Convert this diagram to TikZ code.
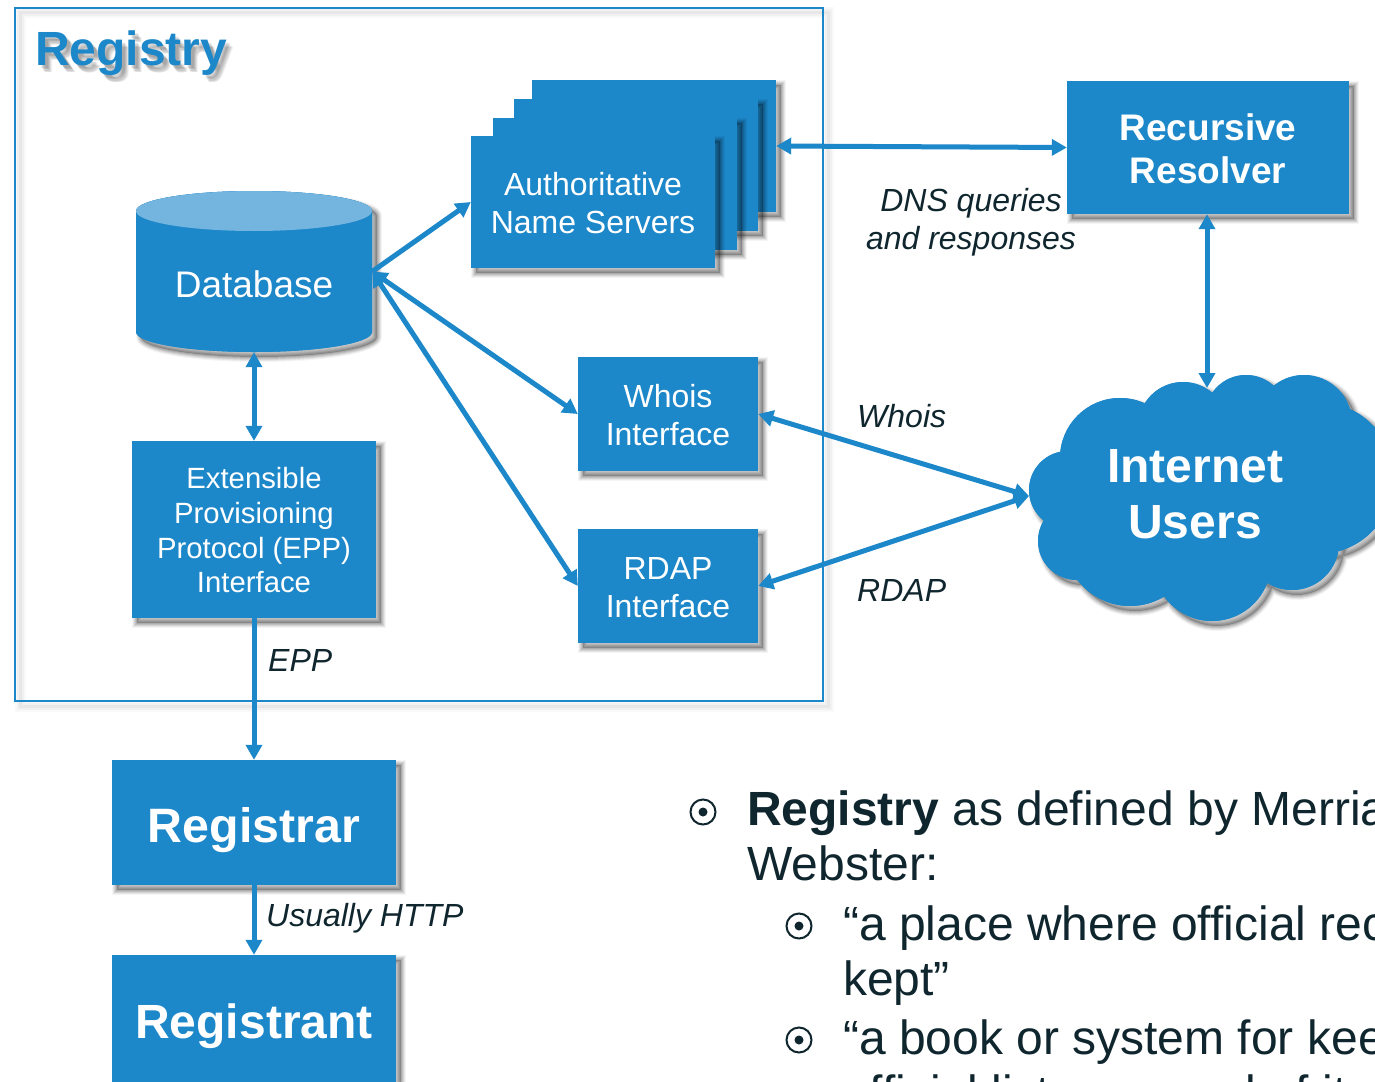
\documentclass[tikz,border=0pt]{standalone}
\usepackage{fontspec}
\setmainfont{Liberation Sans}
\usetikzlibrary{arrows.meta}
\definecolor{mainblue}{HTML}{1C87C9}
\definecolor{topblue}{HTML}{74B5E0}
\definecolor{ink}{HTML}{10262E}
\tikzset{
  softshadow/.style={
    preaction={draw=black,draw opacity=.04,line width=10pt,transform canvas={shift={(5,5)}}},
    preaction={draw=black,draw opacity=.06,line width=8pt,transform canvas={shift={(5,5)}}},
    preaction={draw=black,draw opacity=.08,line width=6pt,transform canvas={shift={(5,5)}}},
    preaction={draw=black,draw opacity=.09,line width=4pt,transform canvas={shift={(5,5)}}},
    preaction={draw=black,fill=black,draw opacity=.09,fill opacity=.22,line width=2pt,transform canvas={shift={(5,5)}}}
  },
  bluebox/.style={softshadow,fill=mainblue,text=white,inner sep=0pt,align=center},
  conn/.style={draw=mainblue,line width=5pt,>={Triangle[width=16pt,length=15pt]}},
  tag/.style={font=\fontsize{32}{38}\selectfont\itshape,text=ink,inner sep=0pt},
  bodytext/.style={font=\fontsize{48}{55}\selectfont,text=ink,inner sep=0pt,anchor=base west},
  ringmark/.style={draw=ink,line width=2pt,circle,minimum size=25pt,inner sep=0pt},
  ringdot/.style={fill=ink,circle,minimum size=9pt,inner sep=0pt}
}
\begin{document}
\begin{tikzpicture}[x=1pt,y=-1pt]
\useasboundingbox (0,0) rectangle (1375,1081);
\clip (0,0) rectangle (1375,1081);
\fill[white] (0,0) rectangle (1375,1081);

% registry frame
\node[minimum width=808pt,minimum height=693pt,inner sep=0pt,draw=mainblue,line width=2pt,
  preaction={draw=black,draw opacity=.025,line width=11pt,transform canvas={shift={(5,5)}}},
  preaction={draw=black,draw opacity=.03,line width=7pt,transform canvas={shift={(5,5)}}},
  preaction={draw=black,draw opacity=.04,line width=3pt,transform canvas={shift={(5,5)}}}] (frame) at (419,354.5) {};

% title
\foreach \k/\o in {7/.05,6/.07,5/.09,4/.10,3/.08}
  \node[font=\fontsize{48}{55}\bfseries\selectfont,text=black,text opacity=\o,inner sep=0pt,anchor=base west] (titleshade\k) at (35+\k,66+\k) {Registry};
\node[font=\fontsize{48}{55}\bfseries\selectfont,text=mainblue,inner sep=0pt,anchor=base west] (title) at (35,66) {Registry};

% database
\path[softshadow,fill=mainblue] (136,211) -- (136,332) arc[start angle=180,end angle=360,x radius=118,y radius=-20] -- (372,211) arc[start angle=0,end angle=180,x radius=118,y radius=-20] -- cycle;
\fill[mainblue] (136,211) -- (136,332) arc[start angle=180,end angle=360,x radius=118,y radius=-20] -- (372,211) arc[start angle=0,end angle=180,x radius=118,y radius=-20] -- cycle;
\fill[topblue] (254,211) ellipse[x radius=118,y radius=20];
\node[minimum width=236pt,minimum height=161pt,inner sep=0pt] (db) at (254,271.5) {};
\node[font=\fontsize{37}{44}\selectfont,text=white,inner sep=0pt] (dblabel) at (254,284) {Database};

% name server stack
\node[bluebox,minimum width=244pt,minimum height=132pt] (ns4) at (654,146) {};
\node[bluebox,minimum width=244pt,minimum height=132pt] (ns3) at (636,165) {};
\node[bluebox,minimum width=244pt,minimum height=132pt] (ns2) at (615,184) {};
\node[bluebox,minimum width=244pt,minimum height=132pt,font=\fontsize{32}{38}\selectfont] (ns1) at (593,202) {\rule{0pt}{25pt}Authoritative\\Name Servers};

\node[bluebox,minimum width=282pt,minimum height=133pt,font=\fontsize{37}{43}\bfseries\selectfont] (res) at (1208,147.5) {\rule{0pt}{29pt}Recursive\\Resolver};
\node[bluebox,minimum width=180pt,minimum height=114pt,font=\fontsize{32}{37.5}\selectfont] (whois) at (668,414) {\rule{0pt}{25pt}Whois\\Interface};
\node[bluebox,minimum width=180pt,minimum height=114pt,font=\fontsize{32}{37.5}\selectfont] (rdap) at (668,586) {\rule{0pt}{25pt}RDAP\\Interface};
\node[bluebox,minimum width=244pt,minimum height=177pt,font=\fontsize{29.3}{34.7}\selectfont] (epp) at (254,529.5) {\rule{0pt}{23pt}Extensible\\Provisioning\\Protocol (EPP)\\Interface};
\node[bluebox,minimum width=284pt,minimum height=125pt,font=\fontsize{48.3}{55}\bfseries\selectfont,text height=49pt,text depth=10pt] (registrar) at (254,822.5) {Registrar};
\node[bluebox,minimum width=284pt,minimum height=135pt,font=\fontsize{48}{55}\bfseries\selectfont,text height=41pt,text depth=10pt] (registrant) at (254,1022.5) {Registrant};

% cloud
\def\cloudshape{
  (1068,490) circle[radius=39] (1120,458) circle[radius=60] (1183,427) circle[radius=45]
  (1246,416) circle[radius=41] (1304,423) circle[radius=48] (1318,478) circle[radius=76]
  (1292,543) circle[radius=47] (1212,562) circle[radius=59] (1130,540) circle[radius=66]
  (1077,541) circle[radius=39] (1190,480) ellipse[x radius=130,y radius=75]}
\path[softshadow,fill=mainblue] \cloudshape;
\fill[mainblue] \cloudshape;
\node[font=\fontsize{48}{56}\bfseries\selectfont,text=white,align=center,inner sep=0pt] (users) at (1195,494) {Internet\\Users};
\coordinate (cloudtop) at (1207,388);
\coordinate (cloudwest) at (1029,496);

% connectors
\draw[conn,->] (db.east) -- (ns1.west);
\draw[conn,<->] (db.east) -- (whois.west);
\draw[conn,<->] (db.east) -- (rdap.west);
\draw[conn,<->] (db.south) -- (epp.north);
\draw[conn,->] (epp.south) -- (registrar.north);
\draw[conn,->] (registrar.south) -- (registrant.north);
\draw[conn,<->] (ns4.east) -- (res.west);
\draw[conn,<->] (res.south -| 1207,0) -- (cloudtop);
\draw[conn,<->] (whois.east) -- (cloudwest);
\draw[conn,<->] (rdap.east) -- (cloudwest);

% labels
\node[tag,align=center] (dns) at (971,222) {DNS queries\\and responses};
\node[tag,anchor=west] (lwhois) at (857,416) {Whois};
\node[tag,anchor=west] (lrdap) at (857,590) {RDAP};
\node[tag,anchor=west] (lepp) at (268,660) {EPP};
\node[tag,anchor=west] (lhttp) at (266,918) {Usually HTTP};

% body text
\node[ringmark] (b1) at (703,812) {};
\node[ringdot] (b1d) at (703,812) {};
\node[ringmark] (b2) at (799,926) {};
\node[ringdot] (b2d) at (799,926) {};
\node[ringmark] (b3) at (799,1040) {};
\node[ringdot] (b3d) at (799,1040) {};
\node[bodytext] (t1) at (747,825) {\textbf{Registry} as defined by Merriam-};
\node[bodytext] (t2) at (747,880) {Webster:};
\node[bodytext] (t3) at (843,940) {“a place where official records are};
\node[bodytext] (t4) at (843,995) {kept”};
\node[bodytext] (t5) at (843,1054) {“a book or system for keeping an};
\node[bodytext] (t6) at (843,1109) {official list or record of items”};
\end{tikzpicture}
\end{document}
